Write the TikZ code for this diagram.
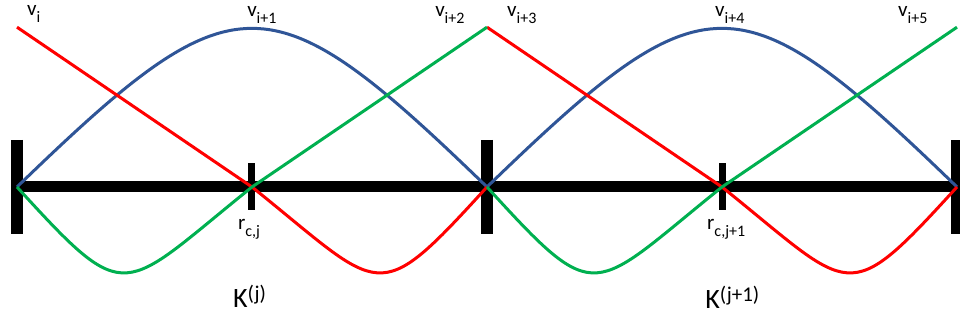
\documentclass[tikz,border=0pt]{standalone}
\usepackage{fontspec}
\setmainfont{Carlito}
\usepackage{tikz}
\definecolor{bluecurve}{RGB}{47,85,151}
\definecolor{redcurve}{RGB}{255,0,0}
\definecolor{greencurve}{RGB}{0,176,80}
\newcommand{\lowtxt}[1]{\raisebox{-7pt}{\fontsize{16}{16}\selectfont #1}}
\newcommand{\hightxt}[1]{\raisebox{7pt}{\fontsize{21}{21}\selectfont #1}}

\begin{document}
\begin{tikzpicture}[x=235pt,y=235pt,
  basis/.style={line width=3pt},
  lbl/.style={anchor=base west,inner sep=0pt,font=\fontsize{21}{21}\selectfont},
  klbl/.style={anchor=base west,inner sep=0pt,font=\fontsize{28}{28}\selectfont}]
  \useasboundingbox (-0.0723,-0.566) rectangle (4.0128,0.7957);
  % element ends k, split points r, tops t
  \coordinate (k0) at (0,0);
  \coordinate (k1) at (2,0);
  \coordinate (k2) at (4,0);
  \coordinate (r0) at (1,0);
  \coordinate (r1) at (3,0);
  \foreach \i in {0,...,4} \coordinate (t\i) at (\i,0.68);
  % axis, element bars and ticks
  \draw[line width=11pt] (k0) -- (k2);
  \foreach \c in {k0,k1,k2} \draw[line width=12pt] (\c) ++(0,0.2) -- ++(0,-0.4);
  \foreach \c in {r0,r1} \draw[line width=7pt] (\c) ++(0,0.1) -- ++(0,-0.2);
  % basis functions
  \draw[basis,bluecurve] (k0) .. controls (0.93,0.9) and (1.07,0.9) .. (k1)
     .. controls (2.93,0.9) and (3.07,0.9) .. (k2);
  \draw[basis,redcurve] (t0) -- (r0) .. controls (1.562,-0.451) and (1.523,-0.523) .. (k1);
  \draw[basis,redcurve] (t2) -- (r1) .. controls (3.562,-0.451) and (3.523,-0.523) .. (k2);
  \draw[basis,greencurve] (k0) .. controls (0.477,-0.523) and (0.438,-0.451) .. (r0) -- (t2);
  \draw[basis,greencurve] (k1) .. controls (2.477,-0.523) and (2.438,-0.451) .. (r1) -- (t4);
  % labels
  \node[lbl] (v0) at (0.0426,0.7277) {v\lowtxt{i}};
  \node[lbl] (v1) at (0.979,0.7234) {v\lowtxt{i+1}};
  \node[lbl] (v2) at (1.779,0.7234) {v\lowtxt{i+2}};
  \node[lbl] (v3) at (2.085,0.7234) {v\lowtxt{i+3}};
  \node[lbl] (v4) at (2.970,0.7234) {v\lowtxt{i+4}};
  \node[lbl] (v5) at (3.749,0.7234) {v\lowtxt{i+5}};
  \node[lbl] (rc0) at (0.940,-0.183) {r\lowtxt{c,j}};
  \node[lbl] (rc1) at (2.936,-0.183) {r\lowtxt{c,j+1}};
  \node[klbl] (kj0) at (0.919,-0.511) {K\hightxt{(j)}};
  \node[klbl] (kj1) at (2.928,-0.515) {K\hightxt{(j+1)}};
\end{tikzpicture}
\end{document}
